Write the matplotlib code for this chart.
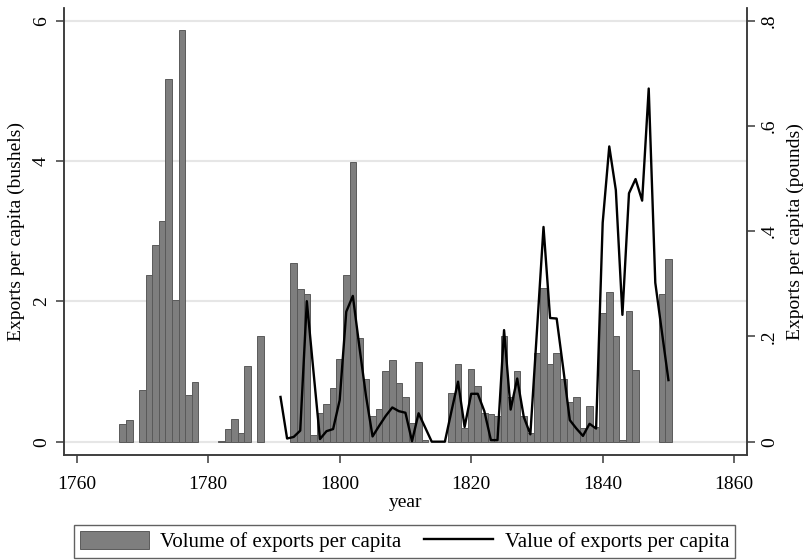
import numpy as np
import matplotlib
matplotlib.use("Agg")
import matplotlib.pyplot as plt

nan = np.nan

# volume of exports per capita (bushels), 1767-1850
vol_years = np.arange(1767, 1851)
volume = [
    0.25, 0.31, nan, 0.73, 2.37, 2.80, 3.15, 5.17, 2.02, 5.87,   # 1767-1776
    0.67, 0.85, nan, nan, nan, 0.01, 0.18, 0.32, 0.13, 1.08,     # 1777-1786
    nan, 1.50, nan, nan, nan, nan, 2.54, 2.18, 2.11, 0.10,       # 1787-1796
    0.41, 0.54, 0.76, 1.18, 2.37, 3.99, 1.48, 0.90, 0.36, 0.46,  # 1797-1806
    1.00, 1.16, 0.83, 0.63, 0.26, 1.14, 0.02, nan, nan, nan,     # 1807-1816
    0.70, 1.11, 0.19, 1.03, 0.79, 0.41, 0.40, 0.36, 1.50, 0.63,  # 1817-1826
    1.01, 0.36, 0.12, 1.27, 2.19, 1.10, 1.27, 0.89, 0.57, 0.64,  # 1827-1836
    0.19, 0.51, 0.21, 1.84, 2.14, 1.51, 0.02, 1.86, 1.02, nan,   # 1837-1846
    nan, nan, 2.10, 2.61,                                        # 1847-1850
]

# value of exports per capita (pounds), 1791-1850
val_years = np.arange(1791, 1851)
value = [
    0.085, 0.006, 0.009, 0.021, 0.267, 0.135, 0.005, 0.020, 0.024, 0.079,  # 1791-1800
    0.247, 0.277, 0.180, 0.087, 0.010, 0.030, 0.049, 0.065, 0.058, 0.055,  # 1801-1810
    0.001, 0.054, 0.027, 0.0, 0.0, 0.0, 0.058, 0.114, 0.028, 0.091,        # 1811-1820
    0.091, 0.058, 0.003, 0.003, 0.212, 0.061, 0.120, 0.047, 0.014, 0.210,  # 1821-1830
    0.408, 0.235, 0.234, 0.139, 0.041, 0.025, 0.011, 0.034, 0.025, 0.416,  # 1831-1840
    0.561, 0.478, 0.241, 0.472, 0.499, 0.458, 0.671, 0.302, 0.209, 0.117,  # 1841-1850
]

left_ticks = [0, 2, 4, 6]
right_ticks = [0, 0.2, 0.4, 0.6, 0.8]
right_labels = ["0", ".2", ".4", ".6", ".8"]
x_ticks = [1760, 1780, 1800, 1820, 1840, 1860]

plt.rcParams["font.family"] = ["Liberation Serif", "DejaVu Serif"]
plt.rcParams["font.size"] = 14

fig = plt.figure(figsize=(8.09, 5.6), dpi=100)
ax = fig.add_axes([0.0791, 0.1875, 0.8446, 0.7982])
ax2 = ax.twinx()

ax.bar(vol_years, volume, width=1.0, color="#7e7e7e", edgecolor="#5a5a5a",
       linewidth=0.7, label="Volume of exports per capita", zorder=2)
ax2.plot(val_years, value, color="black", linewidth=1.7,
         label="Value of exports per capita")

ax.set_xlim(1758.07, 1861.99)
ax.set_ylim(-0.19, 6.18)
ax2.set_ylim(-0.0253, 0.824)

ax.set_yticks(left_ticks)
ax.set_yticklabels([str(t) for t in left_ticks], rotation=90, va="center")
ax2.set_yticks(right_ticks)
ax2.set_yticklabels(right_labels, rotation=90, va="center")
ax.set_xticks(x_ticks)

for a in (ax, ax2):
    a.spines["top"].set_visible(False)
    for s in ("left", "right", "bottom"):
        a.spines[s].set_color("#3a3a3a")
        a.spines[s].set_linewidth(1.1)
    a.tick_params(length=6, width=1.1, color="#3a3a3a", pad=4)
ax.tick_params(axis="x", pad=9)

ax.yaxis.grid(True, color="#e6e6e6", linewidth=1.5, zorder=0)
ax.set_axisbelow(True)

ax.set_xlabel("year", labelpad=1)
ax.set_ylabel("Exports per capita (bushels)", labelpad=6)
ax2.set_ylabel("Exports per capita (pounds)", labelpad=6)

h1, l1 = ax.get_legend_handles_labels()
h2, l2 = ax2.get_legend_handles_labels()
fig.legend(h1 + h2, l1 + l2, loc="center", bbox_to_anchor=(0.5, 0.033),
           ncol=2, frameon=True, fancybox=False, edgecolor="#3a3a3a",
           fontsize=15, handlelength=3.3, handleheight=0.95, handletextpad=0.55,
           columnspacing=1.1, borderpad=0.3, borderaxespad=0)

fig.savefig("out.png", dpi=100)
